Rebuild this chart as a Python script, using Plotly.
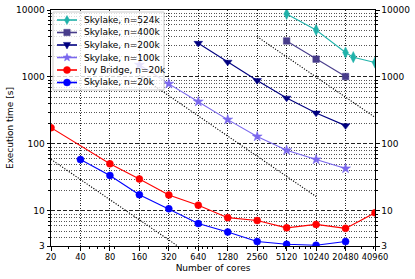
import math
import plotly.graph_objects as go

# ---------------- data ----------------
cores_ticks = [20, 40, 80, 160, 320, 640, 1280, 2560, 5120, 10240, 20480, 40960]
cores_labels = [str(c) for c in cores_ticks]
time_ticks = [3, 10, 100, 1000, 10000]
time_labels = ["3", "10", "100", "1000", "10000"]

sky20k_cores = [40, 80, 160, 320, 640, 1280, 2560, 5120, 10240, 20480]
sky20k_time = [58.6, 33.9, 17.5, 10.8, 6.5, 4.85, 3.5, 3.18, 3.08, 3.5]

ivy20k_cores = [20, 80, 160, 320, 640, 1280, 2560, 5120, 10240, 20480, 40960]
ivy20k_time = [175, 50.6, 30.0, 17.3, 12.2, 7.95, 7.2, 5.6, 6.3, 5.5, 9.4]

sky100k_cores = [160, 320, 640, 1280, 2560, 5120, 10240, 20480]
sky100k_time = [1520, 790, 428, 231, 129, 80.6, 58.6, 43]

sky200k_cores = [640, 1280, 2560, 5120, 10240, 20480]
sky200k_time = [3190, 1667, 887, 485, 290, 188]

sky400k_cores = [5120, 10240, 20480]
sky400k_time = [3450, 1846, 1016]

sky524k_cores = [5120, 10240, 20480, 24576, 40960]
sky524k_time = [8720, 5036, 2317, 1977, 1644]

# ideal-scaling guide lines (end points)
ideal_a_cores = [20, 394]
ideal_a_time = [59, 3.0]
ideal_b_cores = [160, 10240]
ideal_b_time = [1050, 16.4]
ideal_c_cores = [2560, 40960]
ideal_c_time = [4000, 250]

labels = ["Skylake, n=524k", "Skylake, n=400k", "Skylake, n=200k",
          "Skylake, n=100k", "Ivy Bridge, n=20k", "Skylake, n=20k"]

# ---------------- styles ----------------
colors = ["#20B2AA", "#483D8B", "#000080", "#7B68EE", "#FF0000", "#0000FF"]
symbols = ["diamond-tall", "square", "triangle-down", "star", "circle", "circle"]
sizes = [8, 6.5, 7.5, 7.5, 7, 7]
series_x = [sky524k_cores, sky400k_cores, sky200k_cores, sky100k_cores, ivy20k_cores, sky20k_cores]
series_y = [sky524k_time, sky400k_time, sky200k_time, sky100k_time, ivy20k_time, sky20k_time]

x_minor = [m * 10 ** k for k in range(1, 5) for m in range(2, 10)]
x_minor = [v for v in x_minor if 20 < v < 40960 and v not in cores_ticks]
y_minor = [m * 10 ** k for k in range(0, 4) for m in range(2, 10)]
y_minor = [v for v in y_minor if 3 < v < 10000]

W, H = 415, 279
L, R, T, B = 51, 40, 10, 33
PW, PH = W - L - R, H - T - B


def px(xp):
    return (xp - L) / PW


def py(yp):
    return (H - B - yp) / PH


fig = go.Figure()

for gx, gy in [(ideal_a_cores, ideal_a_time), (ideal_b_cores, ideal_b_time), (ideal_c_cores, ideal_c_time)]:
    fig.add_trace(go.Scatter(x=gx, y=gy, mode="lines", showlegend=False, hoverinfo="skip",
                             line=dict(color="#000000", width=1.1, dash="1.2px,1.5px")))

for i in reversed(range(len(labels))):
    fig.add_trace(go.Scatter(
        x=series_x[i], y=series_y[i], mode="lines+markers", name=labels[i],
        line=dict(color=colors[i], width=1.1),
        marker=dict(color=colors[i], symbol=symbols[i], size=sizes[i],
                    line=dict(color=colors[i], width=0.5)),
    ))

# invisible trace so the right-hand axis is drawn
fig.add_trace(go.Scatter(x=sky20k_cores, y=sky20k_time, yaxis="y2", mode="lines",
                         line=dict(width=0), opacity=0, showlegend=False, hoverinfo="skip"))

# ---------------- manual legend (matplotlib-like, compact) ----------------
shapes = []
annotations = []
shapes.append(dict(type="rect", xref="paper", yref="paper", layer="above",
                   x0=px(53), x1=px(164), y0=py(90), y1=py(12),
                   fillcolor="rgba(255,255,255,0.8)", line=dict(color="#cccccc", width=1)))
row_y = [20, 32.5, 45, 57.5, 70, 82.5]


def star_path(ro, ri):
    pts = []
    for k in range(10):
        r = ro if k % 2 == 0 else ri
        a = math.pi / 2 + k * math.pi / 5
        pts.append((r * math.cos(a), r * math.sin(a)))
    return "M" + " L".join(f"{x:.2f},{y:.2f}" for x, y in pts) + " Z"


glyph_paths = {
    "diamond-tall": "M0,4.5 L2.6,0 L0,-4.5 L-2.6,0 Z",
    "triangle-down": "M-3.6,2.6 L3.6,2.6 L0,-4 Z",
    "star": star_path(4.2, 1.8),
}

for i, lab in enumerate(labels):
    yc = py(row_y[i])
    shapes.append(dict(type="line", xref="paper", yref="paper", layer="above",
                       x0=px(57), x1=px(77), y0=yc, y1=yc,
                       line=dict(color=colors[i], width=1.6)))
    base = dict(xref="paper", yref="paper", layer="above", xsizemode="pixel", ysizemode="pixel",
                xanchor=px(67), yanchor=yc, fillcolor=colors[i],
                line=dict(color=colors[i], width=0.5))
    s = symbols[i]
    if s == "circle":
        shapes.append(dict(type="circle", x0=-3.5, x1=3.5, y0=-3.5, y1=3.5, **base))
    elif s == "square":
        shapes.append(dict(type="rect", x0=-3.2, x1=3.2, y0=-3.2, y1=3.2, **base))
    else:
        shapes.append(dict(type="path", path=glyph_paths[s], **base))
    annotations.append(dict(xref="paper", yref="paper", x=px(82), y=yc, xanchor="left",
                            yanchor="middle", text=lab, showarrow=False,
                            font=dict(family="DejaVu Sans", size=9, color="black")))

tickfont = dict(family="DejaVu Sans", size=9, color="black")
xtickfont = dict(family="DejaVu Sans", size=8.3, color="black")

fig.update_layout(
    width=W, height=H,
    margin=dict(l=L, r=R, t=T, b=B, autoexpand=False),
    paper_bgcolor="white", plot_bgcolor="white",
    showlegend=False,
    font=dict(family="DejaVu Sans", size=9, color="black"),
    shapes=shapes, annotations=annotations,
    xaxis=dict(
        type="log", range=[math.log10(20), math.log10(40960)], automargin=False,
        tickmode="array", tickvals=cores_ticks, ticktext=cores_labels, tickfont=xtickfont,
        tickangle=0,
        ticks="outside", ticklen=3.5, tickwidth=0.8, tickcolor="black",
        showline=True, linecolor="black", linewidth=1, mirror=True, zeroline=False,
        showgrid=True, gridcolor="#222222", gridwidth=0.8, griddash="1px,1.5px",
        minor=dict(tickmode="array", tickvals=x_minor, ticks="outside", ticklen=2,
                   tickwidth=0.6, tickcolor="black", showgrid=False),
        title=dict(text="Number of cores", standoff=3, font=tickfont),
    ),
    yaxis=dict(
        type="log", range=[math.log10(3), 4], automargin=False,
        tickmode="array", tickvals=time_ticks, ticktext=time_labels, tickfont=tickfont,
        ticks="outside", ticklen=3.5, tickwidth=0.8, tickcolor="black",
        showline=True, linecolor="black", linewidth=1, mirror=True, zeroline=False,
        showgrid=True, gridcolor="#222222", gridwidth=0.8, griddash="4px,2px",
        minor=dict(tickmode="array", tickvals=y_minor, ticks="outside", ticklen=2,
                   tickwidth=0.6, tickcolor="black", showgrid=True,
                   gridcolor="#555555", gridwidth=0.7, griddash="1px,1.5px"),
        title=dict(text="Execution time [s]", standoff=0, font=tickfont),
    ),
    yaxis2=dict(
        type="log", range=[math.log10(3), 4], overlaying="y", side="right", automargin=False,
        tickmode="array", tickvals=time_ticks, ticktext=time_labels, tickfont=tickfont,
        ticks="outside", ticklen=3.5, tickwidth=0.8, tickcolor="black",
        showline=False, zeroline=False, showgrid=False,
        minor=dict(tickmode="array", tickvals=y_minor, ticks="outside", ticklen=2,
                   tickwidth=0.6, tickcolor="black", showgrid=False),
    ),
)

fig.write_html("out.html", config={"displayModeBar": False},
               post_script="document.body.style.margin='0';")
